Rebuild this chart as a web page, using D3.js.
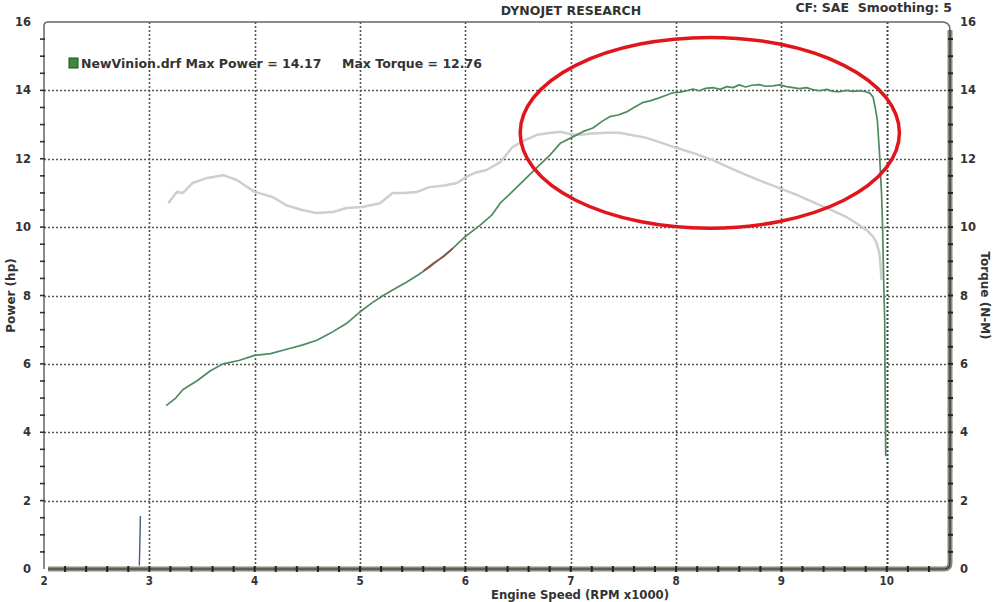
<!DOCTYPE html>
<html>
<head>
<meta charset="utf-8">
<script src="https://cdn.jsdelivr.net/npm/d3@7"></script>
<style>
  body { margin: 0; background: #fff; }
  svg text { font-family: "DejaVu Sans", Verdana, sans-serif; fill: #333; white-space: pre; }
</style>
</head>
<body>
<div id="chart"></div>
<script>
// Power curve (hp) vs engine speed (RPM x1000)
const powerRpm = [3.16, 3.25, 3.32, 3.45, 3.58, 3.7, 3.85, 4.0, 4.15, 4.33, 4.45, 4.59, 4.72, 4.87, 5.02, 5.12,
  5.22, 5.33, 5.44, 5.55, 5.66, 5.77, 5.88, 5.99, 6.14, 6.25, 6.33, 6.45, 6.55, 6.68, 6.8, 6.9, 7.02, 7.12,
  7.21, 7.3, 7.37, 7.45, 7.53, 7.6, 7.68, 7.76, 7.84, 7.9, 7.97, 8.04, 8.1, 8.16, 8.22, 8.28, 8.35, 8.42,
  8.48, 8.54, 8.6, 8.66, 8.72, 8.79, 8.85, 8.92, 8.98, 9.05, 9.11, 9.17, 9.24, 9.3, 9.36, 9.43, 9.49, 9.55,
  9.62, 9.68, 9.74, 9.8, 9.84, 9.87, 9.89, 9.91, 9.93, 9.95, 9.96, 9.97, 9.98, 9.985, 9.99];
const powerHp = [4.78, 5.0, 5.25, 5.5, 5.8, 6.0, 6.1, 6.25, 6.3, 6.45, 6.55, 6.69, 6.9, 7.18, 7.57, 7.8,
  8.0, 8.2, 8.39, 8.6, 8.83, 9.1, 9.38, 9.7, 10.06, 10.35, 10.7, 11.05, 11.35, 11.75, 12.1, 12.45, 12.64, 12.8,
  12.9, 13.1, 13.23, 13.28, 13.37, 13.5, 13.64, 13.7, 13.78, 13.85, 13.93, 13.95, 13.99, 14.04, 13.99, 14.06, 14.08, 14.03,
  14.11, 14.08, 14.16, 14.1, 14.15, 14.17, 14.12, 14.13, 14.16, 14.11, 14.08, 14.05, 14.08, 14.02, 13.99, 14.03, 13.97, 13.96,
  14.0, 13.97, 13.99, 13.96, 13.92, 13.8, 13.5, 13.14, 12.2, 11.0, 10.0, 8.5, 7.3, 5.0, 3.3];

// Torque curve (N-M)
const torqueRpm = [3.18, 3.26, 3.32, 3.41, 3.55, 3.7, 3.83, 4.0, 4.17, 4.3, 4.45, 4.59, 4.74, 4.87, 5.02, 5.19,
  5.31, 5.42, 5.54, 5.66, 5.8, 5.92, 6.01, 6.1, 6.2, 6.33, 6.45, 6.57, 6.68, 6.8, 6.9, 7.0, 7.09, 7.2, 7.35,
  7.46, 7.6, 7.72, 7.85, 8.0, 8.18, 8.35, 8.5, 8.67, 8.82, 8.98, 9.14, 9.3, 9.46, 9.62, 9.72, 9.81, 9.87,
  9.9, 9.93, 9.94, 9.95];
const torqueNm = [10.7, 11.03, 11.0, 11.29, 11.44, 11.52, 11.38, 11.03, 10.88, 10.64, 10.5, 10.41, 10.44, 10.56, 10.59, 10.7,
  11.0, 11.0, 11.03, 11.17, 11.22, 11.29, 11.47, 11.6, 11.67, 11.9, 12.35, 12.55, 12.7, 12.75, 12.79, 12.72, 12.7, 12.74, 12.76,
  12.76, 12.68, 12.61, 12.48, 12.32, 12.15, 11.96, 11.75, 11.52, 11.33, 11.14, 10.95, 10.73, 10.52, 10.29, 10.1, 9.91, 9.72,
  9.56, 9.24, 8.9, 8.45];

// small stray traces on the sheet
const stubRpm = [2.905, 2.91, 2.915];
const stubVal = [0.1, 0.8, 1.55];
const redRpm = [5.6, 5.7, 5.8, 5.88];
const redHp = [8.72, 8.95, 9.15, 9.38];

// hand-drawn circle around the peak (centre and radii in data units)
const circleRpm = 8.32, circleVal = 12.76, circleRx = 1.8, circleRy = 2.79;

const xTicks = [2, 3, 4, 5, 6, 7, 8, 9, 10];
const yTicks = [0, 2, 4, 6, 8, 10, 12, 14, 16];

const svgWidth = 1004, svgHeight = 602;
const pLeft = 44, pRight = 950, pTop = 22, pBottom = 569;

const svg = d3.select('#chart').append('svg')
    .attr('width', svgWidth)
    .attr('height', svgHeight);

const x = d3.scaleLinear().domain([2, 10.6]).range([pLeft, pRight]);
const y = d3.scaleLinear().domain([0, 16]).range([pBottom, pTop]);

// dotted grid
svg.append('g')
    .selectAll('line')
    .data(xTicks.filter(d => d > 2))
    .join('line')
    .attr('x1', d => Math.round(x(d)) + 0.5).attr('x2', d => Math.round(x(d)) + 0.5)
    .attr('y1', pTop).attr('y2', pBottom)
    .attr('stroke', d => d === 10 ? '#3a4a3a' : '#555')
    .attr('stroke-width', d => d === 10 ? 2 : 1.6)
    .attr('stroke-dasharray', '2,2');

svg.append('g')
    .selectAll('line')
    .data(yTicks.filter(d => d > 0 && d < 16))
    .join('line')
    .attr('x1', pLeft).attr('x2', pRight)
    .attr('y1', d => Math.round(y(d)) + 0.5).attr('y2', d => Math.round(y(d)) + 0.5)
    .attr('stroke', '#555')
    .attr('stroke-width', 1.6)
    .attr('stroke-dasharray', '2,2');

// frame: thin top + left, heavy bottom + right with rounded corners
svg.append('path')
    .attr('d', `M${pLeft},${pBottom} L${pLeft},${pTop + 4} Q${pLeft},${pTop} ${pLeft + 4},${pTop} L${pRight - 8},${pTop} Q${pRight},${pTop} ${pRight},${pTop + 8}`)
    .attr('fill', 'none')
    .attr('stroke', '#666')
    .attr('stroke-width', 1.5);

const heavyFrame = `M${pRight},${pTop + 8} L${pRight},${pBottom - 6} Q${pRight},${pBottom} ${pRight - 6},${pBottom} L${pLeft + 4},${pBottom}`;
svg.append('path')
    .attr('d', heavyFrame)
    .attr('fill', 'none')
    .attr('stroke', '#8a8a80')
    .attr('stroke-width', 5);
svg.append('path')
    .attr('d', heavyFrame)
    .attr('fill', 'none')
    .attr('stroke', '#333')
    .attr('stroke-width', 1.2);

// minor ticks
const xMinor = d3.range(2.2, 10.6, 0.2);
svg.append('g')
    .selectAll('line')
    .data(xMinor)
    .join('line')
    .attr('x1', d => x(d)).attr('x2', d => x(d))
    .attr('y1', pBottom - 3).attr('y2', pBottom + 3)
    .attr('stroke', '#222')
    .attr('stroke-width', 2);

const yMinor = d3.range(0.5, 16, 0.5);
svg.append('g')
    .selectAll('line')
    .data(yMinor)
    .join('line')
    .attr('x1', pLeft - 4).attr('x2', pLeft + 1)
    .attr('y1', d => y(d)).attr('y2', d => y(d))
    .attr('stroke', '#333')
    .attr('stroke-width', 1.6);
svg.append('g')
    .selectAll('line')
    .data(yMinor)
    .join('line')
    .attr('x1', pRight - 2).attr('x2', pRight + 3)
    .attr('y1', d => y(d)).attr('y2', d => y(d))
    .attr('stroke', '#222')
    .attr('stroke-width', 2);

// tick labels
svg.append('g')
    .selectAll('text')
    .data(xTicks)
    .join('text')
    .attr('x', d => x(d))
    .attr('y', 585)
    .attr('text-anchor', 'middle')
    .style('font-family', '"DejaVu Sans Condensed", "DejaVu Sans", sans-serif')
    .style('font-weight', 'bold')
    .style('font-size', '11.5px')
    .text(d => d);

svg.append('g')
    .selectAll('text')
    .data(yTicks)
    .join('text')
    .attr('x', 31)
    .attr('y', d => y(d) + 4)
    .attr('text-anchor', 'end')
    .style('font-weight', 'bold')
    .style('font-size', '11.5px')
    .text(d => d);

svg.append('g')
    .selectAll('text')
    .data(yTicks)
    .join('text')
    .attr('x', 960)
    .attr('y', d => y(d) + 4)
    .attr('text-anchor', 'start')
    .style('font-weight', 'bold')
    .style('font-size', '11.5px')
    .text(d => d);

// axis titles
svg.append('text')
    .attr('transform', `translate(15, ${y(8)}) rotate(-90)`)
    .attr('text-anchor', 'middle')
    .style('font-weight', 'bold')
    .style('font-size', '12px')
    .text('Power (hp)');

svg.append('text')
    .attr('transform', `translate(981, ${y(8)}) rotate(90)`)
    .attr('text-anchor', 'middle')
    .style('font-weight', 'bold')
    .style('font-size', '12px')
    .text('Torque (N-M)');

svg.append('text')
    .attr('x', 580)
    .attr('y', 599)
    .attr('text-anchor', 'middle')
    .style('font-family', '"DejaVu Sans Condensed", "DejaVu Sans", sans-serif')
    .style('font-size', '13px')
    .style('font-weight', 'bold')
    .text('Engine Speed (RPM x1000)');

// header texts
svg.append('text')
    .attr('x', 571).attr('y', 15)
    .attr('text-anchor', 'middle')
    .style('font-weight', 'bold')
    .style('font-size', '12.5px')
    .text('DYNOJET RESEARCH');

svg.append('text')
    .attr('x', 952).attr('y', 12)
    .attr('text-anchor', 'end')
    .style('font-weight', 'bold')
    .style('font-size', '12.5px')
    .text('CF: SAE  Smoothing: 5');

// legend
svg.append('rect')
    .attr('x', 69).attr('y', 58)
    .attr('width', 9).attr('height', 10)
    .attr('fill', '#3d8a3d')
    .attr('stroke', '#1f4f1f');
svg.append('text')
    .attr('x', 81).attr('y', 68)
    .style('font-weight', 'bold')
    .style('font-size', '12.5px')
    .text('NewVinion.drf Max Power = 14.17');
svg.append('text')
    .attr('x', 342).attr('y', 68)
    .style('font-weight', 'bold')
    .style('font-size', '12.5px')
    .text('Max Torque = 12.76');

// curves
const line = d3.line().x(d => x(d[0])).y(d => y(d[1]));

svg.append('path')
    .datum(d3.zip(torqueRpm, torqueNm))
    .attr('d', line)
    .attr('fill', 'none')
    .attr('stroke', '#cbcfcd')
    .attr('stroke-width', 2.5)
    .attr('stroke-linejoin', 'round');

svg.append('path')
    .datum(d3.zip(powerRpm, powerHp))
    .attr('d', line)
    .attr('fill', 'none')
    .attr('stroke', '#4f8a60')
    .attr('stroke-width', 1.7)
    .attr('stroke-linejoin', 'round');

svg.append('path')
    .datum(d3.zip(redRpm, redHp))
    .attr('d', line)
    .attr('fill', 'none')
    .attr('stroke', '#9a4a4a')
    .attr('stroke-width', 1.6);

svg.append('path')
    .datum(d3.zip(stubRpm, stubVal))
    .attr('d', line)
    .attr('fill', 'none')
    .attr('stroke', '#4a5a8a')
    .attr('stroke-width', 1.4);

// red annotation ellipse
svg.append('ellipse')
    .attr('cx', x(circleRpm))
    .attr('cy', y(circleVal))
    .attr('rx', x(circleRpm + circleRx) - x(circleRpm))
    .attr('ry', y(circleVal) - y(circleVal + circleRy))
    .attr('fill', 'none')
    .attr('stroke', '#e0161c')
    .attr('stroke-width', 3.5);
</script>
</body>
</html>
